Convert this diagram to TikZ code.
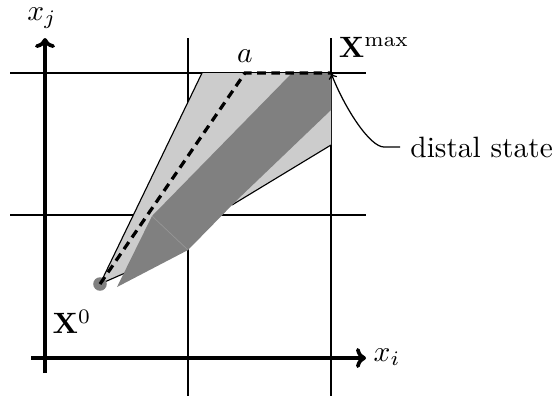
\documentclass[tikz,border=0pt]{standalone}
\usetikzlibrary{arrows.meta}
\begin{document}
\begin{tikzpicture}[x=0.34pt,y=-0.34pt,
  gridline/.style={line width=0.42pt},
  axisline/.style={line width=1.25pt,-{To[length=3.4pt,width=6.8pt]}},
  lightreg/.style={fill=black!20},
  darkreg/.style={fill=black!50},
  edgeline/.style={line width=0.38pt},
  pathline/.style={line width=1.1pt,dash pattern=on 2.9pt off 1.9pt}]
\useasboundingbox (0,0) rectangle (555,396);
% grid
\draw[gridline] (188,38) -- (188,396);
\draw[gridline] (331,38) -- (331,396);
\draw[gridline] (10,73) -- (366,73);
\draw[gridline] (10,215) -- (366,215);
% key points
\coordinate (X0) at (100,284);
\coordinate (A) at (245,73);
\coordinate (Xmax) at (331,73);
\coordinate (L1) at (202,73);
\coordinate (L2) at (331,145);
\coordinate (L3) at (232,205);
\coordinate (L4) at (150,262);
\coordinate (D1) at (117,287);
\coordinate (D2) at (152,216);
\coordinate (D3) at (292,73);
\coordinate (D4) at (331,110);
\coordinate (D5) at (237,200);
\coordinate (D6) at (188,250);
% light region
\fill[lightreg] (X0) -- (L1) -- (Xmax) -- (L2) -- (L3) -- (L4) -- cycle;
\draw[edgeline] (L2) -- (L3);
\draw[edgeline] (L4) -- (X0) -- (L1);
% dark region
\fill[darkreg] (D1) -- (D2) -- (D6) -- cycle;
\fill[darkreg] (D2) -- (D3) -- (Xmax) -- (D4) -- (D5) -- (D6) -- cycle;
\draw[black!42,line width=0.25pt] (D2) -- (D6);
% start point
\fill[black!50] (X0) circle (2.3pt);
% dashed path
\draw[pathline] (X0) -- (A) -- (Xmax);
% axes
\draw[axisline] (45,373) -- (45,38);
\draw[axisline] (31,358) -- (366,358);
% labels
\node (xj) at (42,18) {$x_j$};
\node (xi) at (387,357) {$x_i$};
\node (x0l) at (72,322) {$\mathbf{X}^0$};
\node (xmaxl) at (374,47) {$\mathbf{X}^{\max}$};
\node (al) at (245,56) {$a$};
\node[anchor=west] (ds) at (400,147) {distal state};
\draw[line width=0.42pt,-{To[length=2pt,width=3pt]}] (ds.west) -- +(-16,0) .. controls +(-14,0) and +(14,36) .. (Xmax);
\end{tikzpicture}
\end{document}
